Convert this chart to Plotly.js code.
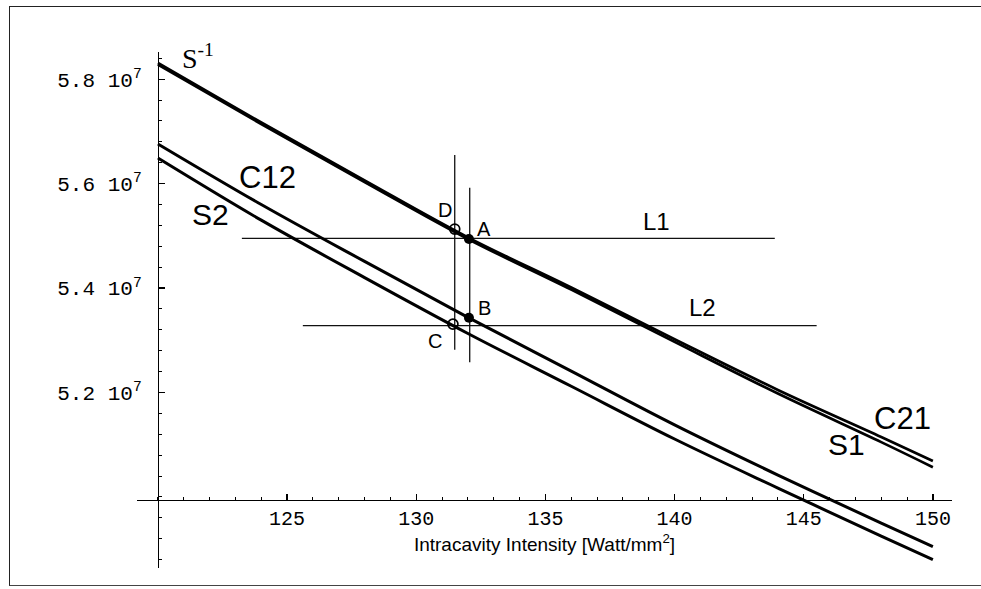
<!DOCTYPE html>
<html>
<head>
<meta charset="utf-8">
<script src="https://cdn.plot.ly/plotly-3.0.1.min.js"></script>
<style>
html,body{margin:0;padding:0;background:#fff;}
#frame{position:absolute;left:9px;top:6px;width:980px;height:578px;border-left:1.5px solid #222;border-top:1.5px solid #222;border-bottom:1.5px solid #444;}
#chart{position:absolute;left:0;top:0;width:981px;height:589px;}
</style>
</head>
<body>
<div id="frame"></div>
<div id="chart"></div>
<script>
// Intracavity intensity [Watt/mm^2]
var intensity = [120, 124, 128, 132, 136, 140, 144, 148, 150];
// values in units of 10^7
var c21 = [5.831, 5.717, 5.606, 5.497, 5.401, 5.302, 5.205, 5.115, 5.069];
var s1  = [5.828, 5.714, 5.603, 5.494, 5.397, 5.297, 5.198, 5.105, 5.057];
var c12 = [5.676, 5.560, 5.451, 5.344, 5.241, 5.138, 5.042, 4.950, 4.905];
var s2  = [5.649, 5.530, 5.420, 5.313, 5.212, 5.111, 5.017, 4.925, 4.880];

// construction lines
var l1x = [123.25, 143.88], l1y = [5.495, 5.495];
var l2x = [125.61, 145.5],  l2y = [5.328, 5.328];
var v1x = [131.49, 131.49], v1y = [5.282, 5.655];
var v2x = [132.07, 132.07], v2y = [5.258, 5.592];

// operating points
var filledX = [132.04, 132.04], filledY = [5.494, 5.343];   // A, B
var openX   = [131.49, 131.42], openY   = [5.513, 5.331];   // D, C

var xTickVals = [125, 130, 135, 140, 145, 150];
var yTickVals = [5.2, 5.4, 5.6, 5.8];
var yTickText = ['5.2 10<sup>7</sup>', '5.4 10<sup>7</sup>', '5.6 10<sup>7</sup>', '5.8 10<sup>7</sup>'];

var xr = [119.19, 150.74], yr = [4.864, 5.852];
var axisX = 120, axisY = 4.995;

function curve(y, w){ return {x: intensity, y: y, mode:'lines', line:{color:'#000', width:w, shape:'spline', smoothing:1}, hoverinfo:'skip', showlegend:false}; }
function seg(x, y){ return {x: x, y: y, mode:'lines', line:{color:'#111', width:1.3}, hoverinfo:'skip', showlegend:false}; }

var traces = [
  seg(l1x, l1y), seg(l2x, l2y), seg(v1x, v1y), seg(v2x, v2y),
  curve(c12, 3), curve(s2, 3), curve(c21, 2.7), curve(s1, 2.7),
  {x: filledX, y: filledY, mode:'markers', marker:{color:'#000', size:10}, showlegend:false, hoverinfo:'skip'},
  {x: openX, y: openY, mode:'markers', marker:{color:'rgba(255,255,255,0)', size:10, line:{color:'#000', width:1.7}}, showlegend:false, hoverinfo:'skip'}
];

var sans = 'Liberation Sans, Arial, sans-serif';
function lab(t, x, y, size, fam, xa){
  return {text:t, x:x, y:y, xref:'x', yref:'y', showarrow:false, xanchor: xa||'center', yanchor:'middle',
          font:{family: fam||sans, size:size, color:'#000'}};
}

var layout = {
  width: 981, height: 589,
  margin: {l:137, r:29, t:52, b:21, pad:0},
  paper_bgcolor:'rgba(0,0,0,0)', plot_bgcolor:'rgba(0,0,0,0)',
  showlegend:false,
  xaxis: {
    range: xr, anchor:'free', position: (axisY - yr[0])/(yr[1]-yr[0]),
    showgrid:false, zeroline:false, showline:true, linecolor:'#000', linewidth:1.5,
    tickmode:'array', tickvals: xTickVals, ticks:'inside', ticklen:6, tickwidth:1.3, tickcolor:'#000',
    minor:{tickmode:'linear', tick0:120, dtick:1, ticks:'inside', ticklen:3, tickwidth:1, tickcolor:'#000'},
    tickfont:{family:'Liberation Mono, DejaVu Sans Mono, monospace', size:20, color:'#000'},
    title:{text:'Intracavity Intensity [Watt/mm<sup>2</sup>]', font:{family:sans, size:19, color:'#000'}, standoff:3}
  },
  yaxis: {
    range: yr, anchor:'free', position: (axisX - xr[0])/(xr[1]-xr[0]),
    showgrid:false, zeroline:false, showline:true, linecolor:'#000', linewidth:1.5,
    tickmode:'array', tickvals: yTickVals, ticktext: yTickText, ticks:'inside', ticklen:6, tickwidth:1.3, tickcolor:'#000',
    minor:{tickmode:'linear', tick0:5.0, dtick:0.04, ticks:'inside', ticklen:3, tickwidth:1, tickcolor:'#000'},
    tickfont:{family:'Liberation Mono, DejaVu Sans Mono, monospace', size:21, color:'#000'},
    ticklabelstandoff: 12
  },
  annotations: [
    lab('S<sup>-1</sup>', 120.85, 5.843, 28, 'Liberation Serif, Times New Roman, serif', 'left'),
    lab('C12', 124.26, 5.611, 31),
    lab('S2', 122.05, 5.540, 30),
    lab('C21', 148.83, 5.150, 31),
    lab('S1', 146.66, 5.100, 30),
    lab('L1', 139.31, 5.527, 24),
    lab('L2', 141.09, 5.362, 24),
    lab('D', 131.11, 5.550, 20),
    lab('A', 132.62, 5.514, 20),
    lab('B', 132.65, 5.362, 20),
    lab('C', 130.72, 5.299, 20)
  ]
};

Plotly.newPlot('chart', traces, layout, {staticPlot:true, displayModeBar:false});
</script>
</body>
</html>
